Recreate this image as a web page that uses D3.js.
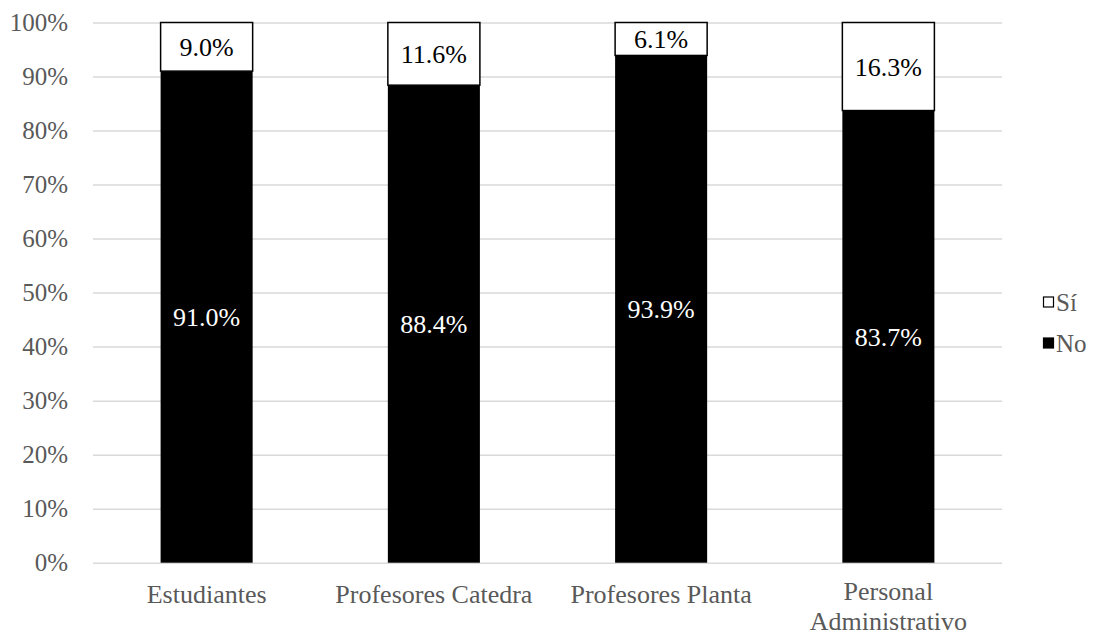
<!DOCTYPE html>
<html><head><meta charset="utf-8">
<script src="https://cdn.jsdelivr.net/npm/d3@7"></script>
<style>body{margin:0;background:#fff}svg{display:block}svg text{font-family:'Liberation Serif','Times New Roman',serif}</style>
</head><body>
<svg id="c" width="1099" height="636"></svg>
<script>
const categories = [["Estudiantes"], ["Profesores Catedra"], ["Profesores Planta"], ["Personal", "Administrativo"]];
const noValues = [91.0, 88.4, 93.9, 83.7];
const siValues = [9.0, 11.6, 6.1, 16.3];
const yTicks = [0,10,20,30,40,50,60,70,80,90,100];
const legendItems = ["Sí", "No"];

(function(){
const svg = d3.select("#c");
const font = "'Liberation Serif','Times New Roman',serif";
const grey = "#595959";
const pLeft = 93, pRight = 1002, pTop = 22.5, pBottom = 562.7;
const x = d3.scaleBand().domain(d3.range(categories.length)).range([pLeft, pRight]).paddingInner(0.595).paddingOuter(0.2975);
const y = d3.scaleLinear().domain([0, 100]).range([pBottom, pTop]);

const yAxis = d3.axisLeft(y).tickValues(yTicks).tickFormat(d => d + "%").tickSize(-(pRight - pLeft)).tickPadding(25);
const gy = svg.append("g").attr("transform", `translate(${pLeft},0)`).call(yAxis);
gy.attr("font-family", null).attr("font-size", null);
gy.select(".domain").remove();
gy.selectAll(".tick line").attr("stroke", "#d9d9d9").attr("stroke-width", 1.5);
gy.selectAll(".tick text").attr("fill", grey).style("font-family", font).style("font-size", "25px");

const data = categories.map((c, i) => ({i, no: noValues[i], si: siValues[i]}));
const g = svg.append("g");
g.selectAll("rect.no").data(data).join("rect").attr("class", "no")
  .attr("x", d => x(d.i)).attr("width", x.bandwidth())
  .attr("y", d => y(d.no)).attr("height", d => y(0) - y(d.no)).attr("fill", "#000");
g.selectAll("rect.si").data(data).join("rect").attr("class", "si")
  .attr("x", d => x(d.i)).attr("width", x.bandwidth())
  .attr("y", d => y(d.no + d.si)).attr("height", d => y(d.no) - y(d.no + d.si))
  .attr("fill", "#fff").attr("stroke", "#000").attr("stroke-width", 1.5);

g.selectAll("text.no").data(data).join("text").attr("class", "no")
  .attr("x", d => x(d.i) + x.bandwidth() / 2).attr("y", d => y(d.no / 2))
  .attr("dy", "0.35em").attr("text-anchor", "middle").attr("fill", "#fff")
  .style("font-family", font).style("font-size", "26px").text(d => d.no.toFixed(1) + "%");
g.selectAll("text.si").data(data).join("text").attr("class", "si")
  .attr("x", d => x(d.i) + x.bandwidth() / 2).attr("y", d => y(d.no + d.si / 2))
  .attr("dy", "0.35em").attr("text-anchor", "middle").attr("fill", "#000")
  .style("font-family", font).style("font-size", "26px").text(d => d.si.toFixed(1) + "%");

const xl = svg.append("g");
categories.forEach((lines, i) => {
  const t = xl.append("text").attr("x", x(i) + x.bandwidth() / 2).attr("y", lines.length > 1 ? 600 : 603)
    .attr("text-anchor", "middle").attr("fill", grey).style("font-family", font).style("font-size", "26px");
  lines.forEach((l, k) => t.append("tspan").attr("x", x(i) + x.bandwidth() / 2).attr("dy", k === 0 ? 0 : 30).text(l));
});

const leg = svg.append("g");
legendItems.forEach((name, k) => {
  const yy = 302 + k * 41;
  leg.append("rect").attr("x", 1043.5).attr("y", yy - 5).attr("width", 10).attr("height", 10)
    .attr("fill", name === "No" ? "#000" : "#fff").attr("stroke", "#000").attr("stroke-width", 1.2);
  leg.append("text").attr("x", 1056).attr("y", yy).attr("dy", "0.35em").attr("fill", grey)
    .style("font-family", font).style("font-size", "25px").text(name);
});
})();
</script>
</body></html>
